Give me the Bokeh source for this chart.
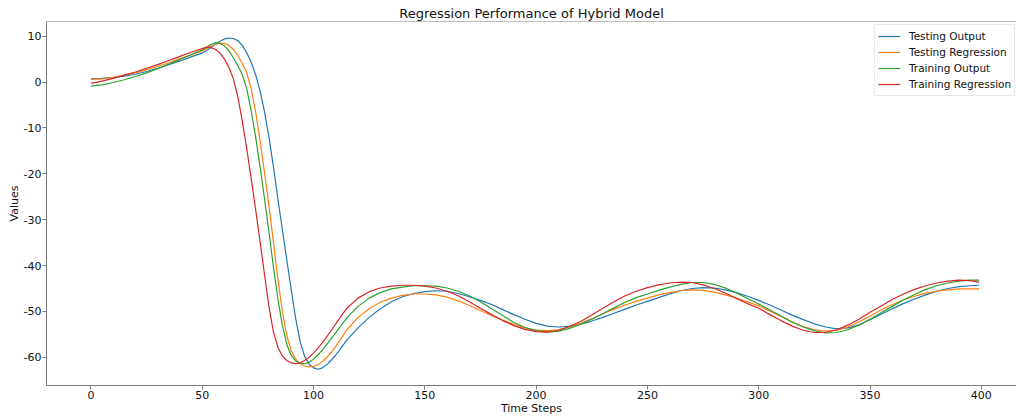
from bokeh.plotting import figure
from bokeh.models import FixedTicker, Span, Legend, LegendItem, Range1d
from bokeh.embed import file_html
from bokeh.resources import INLINE

# Time-step positions at which each series is sampled
steps = ([0, 5, 10, 15, 20, 25, 30, 35, 40, 45, 50]
         + list(range(52, 113, 2))
         + list(range(115, 396, 5))
         + [399])

testing_output = [
    0.7, 0.8, 1.0, 1.3, 1.7, 2.3, 3.0, 3.8, 4.6, 5.5, 6.3,
    6.9, 7.6, 8.3, 8.9, 9.4, 9.6, 9.5, 9.0, 8.0, 6.4, 4.3, 1.6, -2.0, -6.5, -12.0,
    -18.5, -25.5, -32.2, -38.8, -45.3, -51.6, -56.6, -59.8, -61.5, -62.3, -62.6,
    -62.3, -61.6, -60.6, -59.5, -58.2,
    -56.2, -53.6, -51.3, -49.4, -47.9, -46.8, -46.1, -45.7, -45.5, -45.6,
    -46.1, -46.8, -47.6, -48.5, -49.6, -50.7, -51.7, -52.6, -53.2, -53.4,
    -53.2, -52.8, -52.1, -51.3, -50.4, -49.5, -48.6, -47.8, -47.0, -46.2,
    -45.5, -45.0, -44.8, -44.9, -45.3, -45.9, -46.7, -47.6, -48.6, -49.7,
    -50.8, -51.8, -52.7, -53.4, -53.8, -53.6, -52.9, -51.8, -50.6, -49.4,
    -48.3, -47.3, -46.4, -45.6, -45.0, -44.6, -44.4,
    -44.3,
]

testing_regression = [
    0.6, 0.7, 1.0, 1.5, 2.0, 2.7, 3.4, 4.2, 5.1, 5.9, 6.8,
    7.3, 7.8, 8.2, 8.5, 8.4, 8.0, 7.1, 5.8, 4.1, 2.0, -1.5, -6.5, -12.8, -19.8, -27.0,
    -35.0, -43.0, -50.0, -55.3, -58.6, -60.4, -61.4, -61.9, -62.1, -62.0, -61.6,
    -60.9, -60.0, -58.9, -57.6, -56.2,
    -54.0, -51.3, -49.4, -48.0, -47.1, -46.5, -46.2, -46.2, -46.4, -46.9,
    -47.7, -48.7, -49.8, -50.9, -51.9, -52.8, -53.6, -54.1, -54.2, -54.0,
    -53.4, -52.6, -51.6, -50.5, -49.5, -48.6, -47.8, -47.1, -46.4, -45.9,
    -45.5, -45.3, -45.4, -45.8, -46.4, -47.1, -47.9, -48.8, -49.9, -51.1,
    -52.3, -53.3, -54.0, -54.3, -54.1, -53.4, -52.3, -51.0, -49.7, -48.5,
    -47.5, -46.7, -46.0, -45.6, -45.3, -45.1, -45.1,
    -45.1,
]

training_output = [
    -0.9, -0.6, -0.1, 0.5, 1.2, 2.0, 2.9, 3.9, 4.9, 6.0, 7.0,
    7.6, 8.2, 8.6, 8.4, 7.9, 6.8, 5.3, 3.6, 1.6, -1.5, -6.3, -12.0, -18.5, -25.5, -32.8,
    -40.3, -47.3, -53.0, -57.2, -59.6, -60.8, -61.3, -61.4, -61.1, -60.4, -59.5,
    -58.4, -57.2, -55.9, -54.6, -53.3,
    -51.4, -48.9, -47.1, -45.9, -45.1, -44.7, -44.4, -44.4, -44.5, -44.9,
    -45.6, -46.6, -47.9, -49.4, -50.9, -52.4, -53.5, -54.2, -54.5, -54.3,
    -53.7, -52.8, -51.7, -50.5, -49.2, -48.0, -47.0, -46.2, -45.4, -44.7,
    -44.1, -43.7, -43.7, -44.1, -44.9, -46.0, -47.2, -48.4, -49.7, -51.0,
    -52.3, -53.4, -54.2, -54.7, -54.6, -54.0, -53.0, -51.7, -50.3, -48.9,
    -47.5, -46.3, -45.2, -44.4, -43.8, -43.4, -43.2,
    -43.2,
]

training_regression = [
    -0.3, 0.2, 0.8, 1.5, 2.2, 3.0, 3.8, 4.7, 5.6, 6.5, 7.3,
    7.6, 7.5, 7.1, 6.3, 5.0, 3.2, 0.7, -3.2, -8.5, -14.5, -21.0, -27.8, -34.8, -42.0, -49.0,
    -54.5, -57.8, -59.7, -60.7, -61.2, -61.4, -61.2, -60.7, -60.0, -59.1, -58.0,
    -56.8, -55.5, -54.1, -52.7, -51.3,
    -49.3, -47.1, -45.7, -44.9, -44.5, -44.3, -44.3, -44.5, -44.9, -45.6,
    -46.6, -47.9, -49.3, -50.7, -52.0, -53.1, -53.9, -54.4, -54.5, -54.1,
    -53.3, -52.2, -50.8, -49.3, -47.9, -46.6, -45.6, -44.8, -44.2, -43.8,
    -43.6, -43.7, -44.2, -45.0, -46.0, -47.2, -48.3, -49.3, -50.7, -52.0,
    -53.2, -54.1, -54.6, -54.6, -54.0, -53.0, -51.7, -50.2, -48.8, -47.4,
    -46.2, -45.2, -44.4, -43.8, -43.4, -43.2, -43.3,
    -43.6,
]

series_names = ["Testing Output", "Testing Regression", "Training Output", "Training Regression"]
series_colors = ["#1f77b4", "#ff7f0e", "#2ca02c", "#d62728"]
x_ticks = [0, 50, 100, 150, 200, 250, 300, 350, 400]
y_ticks = [-60, -50, -40, -30, -20, -10, 0, 10]

FONT = "DejaVu Sans"
SPINE = "#7a7a7a"
TEXT = "#111111"

p = figure(
    width=1016, height=417,
    output_backend="svg", toolbar_location=None,
    x_range=Range1d(-19.95, 415.8), y_range=Range1d(-66.15, 13.2),
    min_border_left=46, min_border_right=0, min_border_top=21, min_border_bottom=31,
    title="Regression Performance of Hybrid Model",
)
p.background_fill_color = "white"
p.border_fill_color = "white"
p.outline_line_color = None
p.grid.visible = False

p.title.align = "center"
p.title.text_font = FONT
p.title.text_font_size = "13px"
p.title.text_font_style = "normal"
p.title.text_color = TEXT
p.title.standoff = 2

for ax in (p.xaxis[0], p.yaxis[0]):
    ax.axis_line_color = SPINE
    ax.axis_line_width = 1
    ax.major_tick_line_color = SPINE
    ax.major_tick_out = 4
    ax.major_tick_in = 0
    ax.minor_tick_line_color = None
    ax.major_label_text_font = FONT
    ax.major_label_text_font_size = "11px"
    ax.major_label_text_color = TEXT
    ax.axis_label_text_font = FONT
    ax.axis_label_text_font_size = "11px"
    ax.axis_label_text_font_style = "normal"
    ax.axis_label_text_color = TEXT
    ax.major_label_standoff = 1
    ax.axis_label_standoff = 0

p.xaxis.ticker = FixedTicker(ticks=x_ticks)
p.yaxis.ticker = FixedTicker(ticks=y_ticks)
# plain hyphen-minus for negative tick labels
p.yaxis.major_label_overrides = {t: str(t) for t in y_ticks}
p.xaxis.major_label_overrides = {t: str(t) for t in x_ticks}
p.xaxis.axis_label = "Time Steps"
p.yaxis.axis_label = "Values"

# top spine of the axes box
p.add_layout(Span(location=13.2, dimension="width", line_color=SPINE, line_width=1))

all_series = [testing_output, testing_regression, training_output, training_regression]
items = []
for name, color, ys in zip(series_names, series_colors, all_series):
    r = p.line(steps, ys, line_color=color, line_width=1.2)
    items.append(LegendItem(label=name, renderers=[r]))

legend = Legend(
    items=items,
    location=(828, 289),
    label_text_font=FONT,
    label_text_font_size="10.5px",
    label_text_color=TEXT,
    label_standoff=9,
    glyph_width=22,
    glyph_height=16,
    label_height=16,
    spacing=0,
    padding=3,
    margin=0,
    border_line_color="#d4d4d4",
    border_line_width=1,
    background_fill_color="white",
    background_fill_alpha=0.8,
)
p.add_layout(legend)

open("out.html", "w").write(file_html(p, INLINE))
